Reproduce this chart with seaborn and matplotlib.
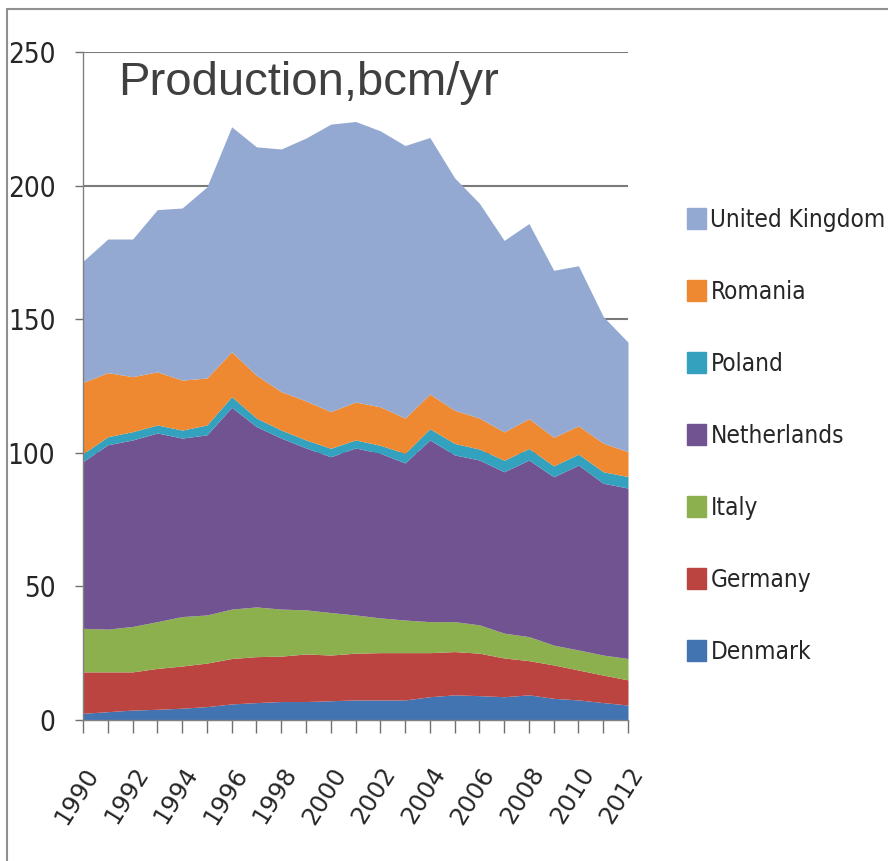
import matplotlib
matplotlib.use("Agg")
import matplotlib.pyplot as plt
import matplotlib.patches as mpatches
import seaborn as sns

# Gas production by country, bcm/yr
years = list(range(1990, 2013))
denmark = [2.5, 3.1, 3.7, 4.0, 4.4, 5.0, 6.0, 6.5, 6.9, 6.9, 7.2, 7.5, 7.5, 7.5, 8.7, 9.4, 9.1, 8.7, 9.4, 8.1, 7.5, 6.5, 5.6]
germany = [15.5, 14.9, 14.3, 15.3, 15.8, 16.3, 17.0, 17.2, 17.0, 17.8, 17.1, 17.5, 17.7, 17.7, 16.5, 16.2, 15.9, 14.5, 12.8, 12.5, 11.2, 10.3, 9.4]
italy = [16.3, 16.0, 17.0, 17.5, 18.5, 18.0, 18.5, 18.6, 17.6, 16.5, 15.9, 14.3, 13.0, 12.2, 11.6, 11.2, 10.6, 9.3, 9.0, 7.4, 7.5, 7.5, 8.0]
netherlands = [62.4, 69.0, 69.8, 70.6, 66.8, 67.4, 75.5, 67.5, 64.0, 60.6, 58.3, 62.5, 61.6, 58.8, 68.0, 62.4, 61.7, 60.4, 66.1, 63.0, 69.2, 64.3, 63.8]
poland = [3.0, 3.0, 3.1, 3.0, 3.0, 3.7, 4.0, 3.2, 3.0, 3.0, 3.2, 3.0, 3.0, 3.6, 4.2, 4.3, 4.1, 4.3, 4.3, 4.1, 4.1, 4.3, 4.3]
romania = [26.6, 24.0, 20.6, 19.9, 18.7, 17.6, 16.8, 16.0, 14.4, 14.6, 13.7, 14.2, 14.4, 13.2, 13.0, 12.4, 11.6, 10.6, 11.2, 10.7, 10.6, 10.7, 9.3]
uk = [45.4, 50.0, 51.5, 60.7, 64.4, 71.5, 84.2, 85.5, 90.8, 98.4, 107.6, 105.0, 103.3, 102.0, 96.0, 87.0, 80.4, 71.7, 73.0, 62.5, 59.9, 47.4, 41.0]

countries = ["Denmark", "Germany", "Italy", "Netherlands", "Poland", "Romania", "United Kingdom"]
colors = ["#4274b2", "#bb4441", "#8db04e", "#715392", "#34a1be", "#ee8932", "#93a9d1"]

sns.set_theme(style="white")
plt.rcParams['font.family'] = ['DejaVu Sans']
plt.rcParams['font.stretch'] = 'condensed'

fig = plt.figure(figsize=(8.88, 8.61), dpi=100)
ax = fig.add_axes([0.0935, 0.1638, 0.6137, 0.7758])

ax.stackplot(years, denmark, germany, italy, netherlands, poland, romania, uk,
             colors=colors, labels=countries, linewidth=0, zorder=2)

ax.set_xlim(1990, 2012)
ax.set_ylim(0, 250)
ax.set_yticks(range(0, 251, 50))
ax.set_xticks(years, minor=True)
ax.set_xticks(years[::2])
ax.set_xticklabels([str(y) for y in years[::2]], rotation=58, ha='right',
                   rotation_mode='anchor', fontsize=17.5, fontstretch='normal')
ax.tick_params(axis='x', which='both', direction='out', length=9, width=1,
               color='#707070', pad=22, bottom=True)
ax.tick_params(axis='y', direction='out', length=6, width=1, color='#707070',
               labelsize=20, pad=14, left=True)

ax.yaxis.grid(True, color='#7a7a7a', linewidth=1.5, zorder=0)
ax.xaxis.grid(False)
ax.set_axisbelow(True)
for side in ['top', 'right']:
    ax.spines[side].set_visible(False)
for side in ['left', 'bottom']:
    ax.spines[side].set_color('#808080')
    ax.spines[side].set_linewidth(1)

ax.text(1991.4, 234, "Production,bcm/yr", fontsize=34, color='#404040',
        family='Liberation Sans', fontstretch='normal', va='baseline', zorder=3)

handles = [mpatches.Patch(color=c, label=n) for n, c in zip(countries, colors)][::-1]
fig.legend(handles=handles, loc='upper left', bbox_to_anchor=(0.774, 0.759),
           frameon=False, prop={'size': 17.5, 'stretch': 'condensed'},
           labelspacing=1.98, handlelength=0.75, handleheight=0.95,
           handletextpad=0.2, borderaxespad=0, borderpad=0)

# outer chart frame (top and left edges visible)
fig.add_artist(plt.Line2D([0.008, 0.008], [0.0, 0.99], color='#909090', lw=1.5))
fig.add_artist(plt.Line2D([0.008, 1.0], [0.99, 0.99], color='#909090', lw=1.5))

fig.savefig("out.png", dpi=100)
